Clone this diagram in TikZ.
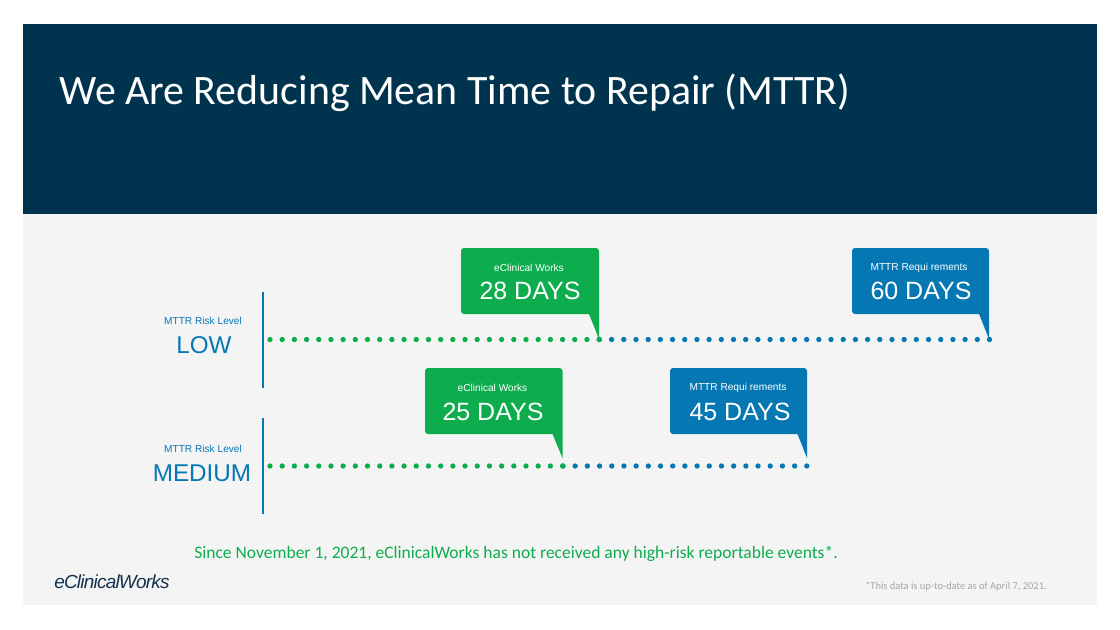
\documentclass[tikz,border=0pt]{standalone}
\usepackage{fontspec}
\setmainfont{Carlito}
\newfontfamily\arialf{Liberation Sans}
\newfontfamily\logof[LetterSpace=-4]{Liberation Sans}
\definecolor{navy}{HTML}{00334E}
\definecolor{panel}{HTML}{F4F4F4}
\definecolor{ecwgreen}{HTML}{0DAD4E}
\definecolor{ecwblue}{HTML}{0578B4}
\definecolor{notegray}{HTML}{A6A6A6}
\definecolor{logoblue}{HTML}{12324F}
\tikzset{
  callout/.style={fill=#1,rounded corners=3*0.75pt},
  smalltext/.style={text=white,font=\arialf\fontsize{7.6}{9}\selectfont,inner sep=0pt,anchor=center},
  bigtext/.style={text=white,font=\arialf\fontsize{18.75}{20}\selectfont,inner sep=0pt,anchor=center},
  risktext/.style={text=ecwblue,font=\arialf\fontsize{7.6}{9}\selectfont,inner sep=0pt,anchor=center},
  levelhead/.style={text=ecwblue,font=\arialf\fontsize{18.2}{20}\selectfont,inner sep=0pt,anchor=center},
  dotline/.style={draw=#1,line width=4pt,line cap=round,dash pattern=on 0pt off 9.1425pt},
  sep/.style={draw=ecwblue,line width=1.1pt}
}
\begin{document}
\begin{tikzpicture}[x=0.75pt,y=-0.75pt]
\useasboundingbox (0,0) rectangle (1120,629);
\fill[white] (0,0) rectangle (1120,629);
\fill[panel] (23,214) rectangle (1097,605);
\fill[navy] (23,24) rectangle (1097,214);
\node[anchor=base west,inner sep=0pt,text=white,font=\fontsize{31.4}{36}\selectfont] (title) at (59,104) {We Are Reducing Mean Time to Repair (MTTR)};

% risk separators
\coordinate (s1a) at (263,292); \coordinate (s1b) at (263,388);
\coordinate (s2a) at (263,418); \coordinate (s2b) at (263,514);
\draw[sep] (s1a) -- (s1b);
\draw[sep] (s2a) -- (s2b);

% labels
\node[risktext] (r1) at (203,320.5) {MTTR Risk Level};
\node[levelhead] (l1) at (204,345) {LOW};
\node[risktext] (r2) at (203,448.5) {MTTR Risk Level};
\node[levelhead] (l2) at (202,473) {MEDIUM};

% dotted timelines
\coordinate (a0) at (270,339.5); \coordinate (a1) at (599.4,339.5); \coordinate (a2) at (989.6,339.5);
\coordinate (b0) at (270,466); \coordinate (b1) at (563,466); \coordinate (b2) at (807.2,466);
\draw[dotline=ecwblue] (a1) -- (a2);
\draw[dotline=ecwgreen] (a0) -- (a1);
\draw[dotline=ecwblue] (b1) -- (b2);
\draw[dotline=ecwgreen] (b0) -- (b1);

% callouts
\fill[callout=ecwgreen] (461,248) -- (599,248) -- (599,325) [sharp corners] -- (599,339) -- (589,314) [rounded corners=3*0.75pt] -- (461,314) -- cycle;
\node[smalltext] (c1a) at (529,267.5) {eClinical Works};
\node[bigtext] (c1b) at (530,291) {28 DAYS};

\fill[callout=ecwblue] (852,248) -- (989,248) -- (989,325) [sharp corners] -- (989,339) -- (979,314) [rounded corners=3*0.75pt] -- (852,314) -- cycle;
\node[smalltext] (c2a) at (919,267.5) {MTTR Requi rements};
\node[bigtext] (c2b) at (921,291) {60 DAYS};

\fill[callout=ecwgreen] (425,368) -- (562.5,368) -- (562.5,445) [sharp corners] -- (562.5,458) -- (552.5,434) [rounded corners=3*0.75pt] -- (425,434) -- cycle;
\node[smalltext] (c3a) at (492.5,388) {eClinical Works};
\node[bigtext] (c3b) at (493,412) {25 DAYS};

\fill[callout=ecwblue] (670,368) -- (807,368) -- (807,445) [sharp corners] -- (807,458) -- (797.5,434) [rounded corners=3*0.75pt] -- (670,434) -- cycle;
\node[smalltext] (c4a) at (738,388) {MTTR Requi rements};
\node[bigtext] (c4b) at (740,412) {45 DAYS};

% footer
\node[anchor=base west,inner sep=0pt,text=ecwgreen,font=\fontsize{13.14}{15}\selectfont] (claim) at (194,558) {Since November 1, 2021, eClinicalWorks has not received any high-risk reportable events*.};
\node[anchor=base west,inner sep=0pt,text=logoblue,font=\logof\itshape\fontsize{14.2}{15}\selectfont] (logo) at (54,588) {eClinicalWorks};
\node[anchor=base east,inner sep=0pt,text=notegray,font=\fontsize{7.85}{9}\selectfont] (note) at (1047,589) {*This data is up-to-date as of April 7, 2021.};
\end{tikzpicture}
\end{document}
